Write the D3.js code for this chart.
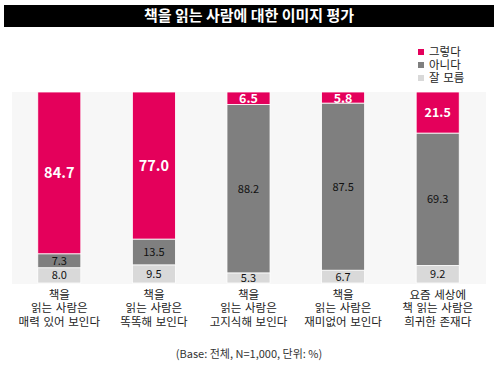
<!DOCTYPE html>
<html><head><meta charset="utf-8">
<script src="https://cdn.jsdelivr.net/npm/d3@7"></script>
<style>body{margin:0;background:#fff}svg{display:block}</style>
</head><body>
<script>
const categories = [
  ["책을","읽는 사람은","매력 있어 보인다"],
  ["책을","읽는 사람은","똑똑해 보인다"],
  ["책을","읽는 사람은","고지식해 보인다"],
  ["책을","읽는 사람은","재미없어 보인다"],
  ["요즘 세상에","책 읽는 사람은","희귀한 존재다"]
];
const seriesNames = ["그렇다","아니다","잘 모름"];
const yes     = [84.7, 77.0, 6.5, 5.8, 21.5];
const no      = [7.3, 13.5, 88.2, 87.5, 69.3];
const unknown = [8.0, 9.5, 5.3, 6.7, 9.2];
const colors = ["#e4005b","#7f7f7f","#d9d9d9"];

const W = 500, H = 368;
const font = "'Noto Sans CJK KR','Noto Sans',sans-serif";
const tightFont = "'DejaVu Sans','Noto Sans CJK KR',sans-serif";
const svg = d3.select("body").append("svg").attr("width",W).attr("height",H)
  .style("font-family",font);

// Title bar
svg.append("rect").attr("x",4).attr("y",5).attr("width",490).attr("height",22).attr("fill","#000");
svg.append("text").attr("x",249).attr("y",16).attr("dy","0.36em").attr("text-anchor","middle")
  .attr("fill","#fff").attr("font-size",15).attr("font-weight","bold").text("책을 읽는 사람에 대한 이미지 평가");

// Legend
const legY = 52, legStep = 13;
seriesNames.forEach((n,i)=>{
  svg.append("rect").attr("x",418).attr("y",legY + i*legStep - 3).attr("width",6).attr("height",6).attr("fill",colors[i]);
  svg.append("text").attr("x",429).attr("y",legY + i*legStep).attr("dy","0.36em")
    .style("font-family",tightFont).attr("font-size",11.5).attr("fill","#222").text(n);
});

// Plot background
svg.append("rect").attr("x",12).attr("y",92).attr("width",474).attr("height",192).attr("fill","#f7f7f7");

const idx = d3.range(categories.length);
const x = d3.scaleBand().domain(idx).range([12,485]).paddingInner(0.545).paddingOuter(0.2725);
const y = d3.scaleLinear().domain([0,100]).range([283,92]);

const table = idx.map(i=>({i, unknown:unknown[i], no:no[i], yes:yes[i]}));
const keys = ["unknown","no","yes"];
const keyColor = {yes:colors[0], no:colors[1], unknown:colors[2]};
const stack = d3.stack().keys(keys)(table);

const g = svg.append("g");
stack.forEach(layer=>{
  const k = layer.key;
  layer.forEach(d=>{
    const i = d.data.i;
    const y0 = y(d[0]), y1 = y(d[1]);
    g.append("rect").attr("x",x(i)).attr("width",x.bandwidth())
      .attr("y",y1).attr("height",y0-y1).attr("fill",keyColor[k])
      .attr("stroke","#fff").attr("stroke-width",0.8);
    const v = d.data[k];
    let fs = 11, fw = "normal", fc = "#111";
    if (k==="yes"){ fc="#fff"; fw="bold"; fs = v>50 ? 14.5 : 12.5; }
    g.append("text").attr("x",x(i)+x.bandwidth()/2).attr("y",(y0+y1)/2 + (k==="yes" && v<10 ? 0.5 : 0))
      .attr("dy","0.36em").attr("text-anchor","middle")
      .attr("font-size",fs).attr("font-weight",fw).attr("fill",fc)
      .text(v.toFixed(1));
  });
});

// Category labels
idx.forEach(i=>{
  const cx = x(i)+x.bandwidth()/2;
  categories[i].forEach((line,j)=>{
    svg.append("text").attr("x",cx).attr("y",294.5+j*13.5).attr("dy","0.36em")
      .attr("text-anchor","middle").style("font-family",tightFont).attr("font-size",11.5)
      .attr("fill","#222").text(line);
  });
});

// Footer
svg.append("text").attr("x",249).attr("y",354).attr("dy","0.36em").attr("text-anchor","middle")
  .attr("font-size",11).attr("fill","#333").text("(Base: 전체, N=1,000, 단위: %)");
</script>
</body></html>
